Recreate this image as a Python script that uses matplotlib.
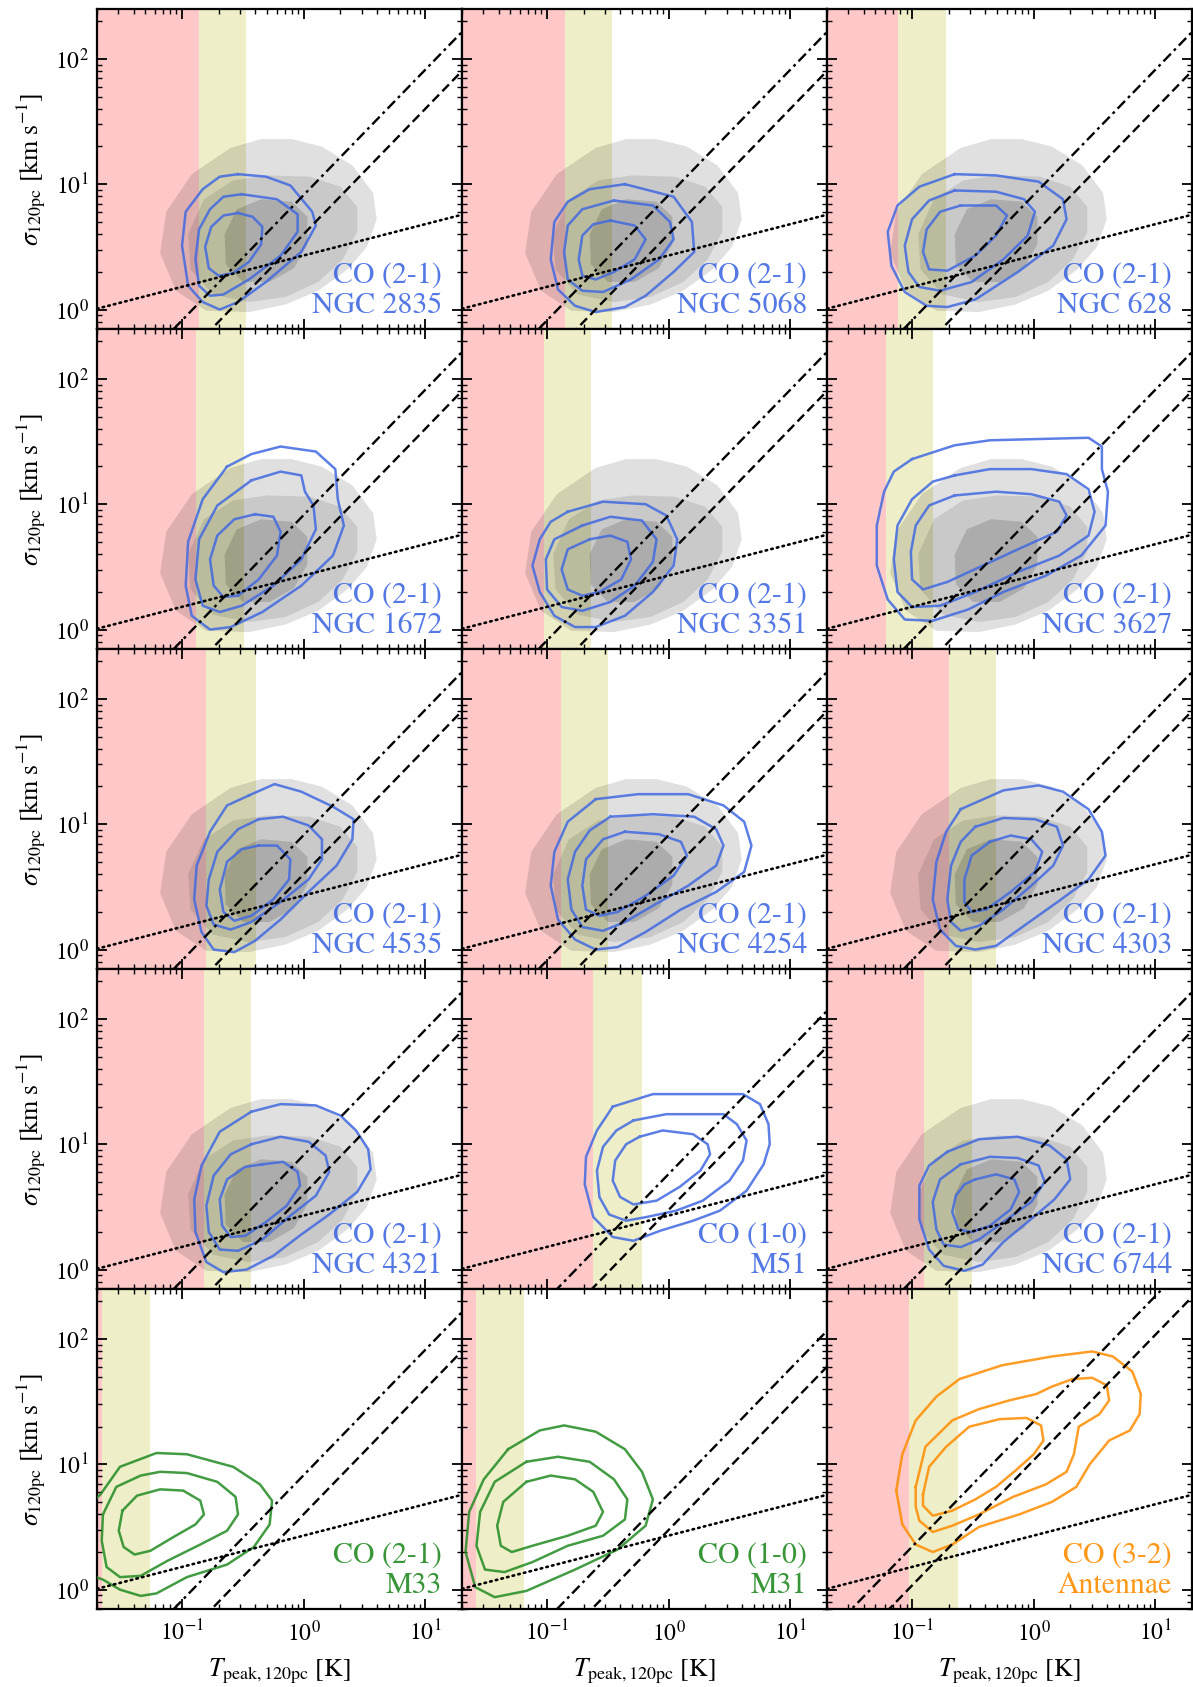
import numpy as np
import matplotlib.pyplot as plt

plt.rcParams['font.family'] = 'STIXGeneral'
plt.rcParams['mathtext.fontset'] = 'stix'

# contour outlines: (log10 Tpeak [K], log10 sigma [km/s]), outer -> inner
gray_ref = [
    [(-0.10, 1.36), (0.15, 1.30), (0.40, 1.15), (0.57, 0.93), (0.60, 0.72), (0.52, 0.50), (0.36, 0.32),
     (0.12, 0.15), (-0.15, 0.04), (-0.45, -0.02), (-0.80, -0.01), (-1.05, 0.15), (-1.18, 0.45),
     (-1.13, 0.78), (-0.92, 1.08), (-0.60, 1.29), (-0.35, 1.36)],
    [(-0.30, 1.07), (0.05, 1.06), (0.30, 0.98), (0.44, 0.82), (0.44, 0.62), (0.32, 0.40), (0.12, 0.22),
     (-0.15, 0.10), (-0.45, 0.06), (-0.75, 0.12), (-0.93, 0.32), (-0.95, 0.60), (-0.82, 0.88), (-0.58, 1.03)],
    [(-0.35, 0.88), (-0.10, 0.86), (0.03, 0.74), (0.03, 0.52), (-0.08, 0.33), (-0.28, 0.22), (-0.50, 0.22),
     (-0.64, 0.36), (-0.65, 0.60), (-0.55, 0.80)],
]

ngc2835 = [
    [(-0.54, 1.08), (-0.31, 1.06), (-0.11, 0.99), (0.07, 0.78), (0.10, 0.67), (-0.02, 0.46), (-0.31, 0.22),
     (-0.54, 0.06), (-0.69, 0.00), (-0.83, 0.06), (-0.95, 0.19), (-1.00, 0.51), (-0.97, 0.78), (-0.83, 0.96),
     (-0.69, 1.06)],
    [(-0.51, 0.92), (-0.22, 0.88), (-0.05, 0.76), (-0.05, 0.62), (-0.19, 0.43), (-0.45, 0.24), (-0.66, 0.12),
     (-0.77, 0.11), (-0.86, 0.19), (-0.89, 0.40), (-0.86, 0.64), (-0.77, 0.80), (-0.66, 0.90)],
    [(-0.54, 0.77), (-0.42, 0.74), (-0.34, 0.66), (-0.35, 0.52), (-0.45, 0.38), (-0.58, 0.29), (-0.70, 0.27),
     (-0.78, 0.33), (-0.81, 0.50), (-0.76, 0.66), (-0.66, 0.75)],
]
ngc5068 = [
    [(-0.36, 1.00), (0.04, 0.90), (0.19, 0.70), (0.21, 0.46), (0.04, 0.30), (-0.19, 0.11), (-0.36, 0.02),
     (-0.60, -0.02), (-0.77, 0.03), (-0.91, 0.16), (-0.97, 0.40), (-0.94, 0.70), (-0.83, 0.86), (-0.65, 0.96)],
    [(-0.45, 0.87), (-0.13, 0.83), (0.01, 0.70), (0.04, 0.56), (-0.08, 0.40), (-0.31, 0.24), (-0.54, 0.14),
     (-0.71, 0.15), (-0.83, 0.24), (-0.86, 0.46), (-0.83, 0.67), (-0.71, 0.80)],
    [(-0.48, 0.71), (-0.28, 0.67), (-0.19, 0.56), (-0.28, 0.40), (-0.45, 0.30), (-0.60, 0.24), (-0.71, 0.27),
     (-0.74, 0.40), (-0.71, 0.59), (-0.62, 0.68)],
]
ngc628 = [
    [(-0.65, 1.08), (-0.31, 1.07), (0.04, 1.02), (0.24, 0.88), (0.27, 0.72), (0.16, 0.51), (-0.13, 0.30),
     (-0.48, 0.08), (-0.71, 0.02), (-0.88, 0.03), (-1.06, 0.14), (-1.17, 0.35), (-1.20, 0.62), (-1.12, 0.83),
     (-0.94, 0.98)],
    [(-0.65, 0.95), (-0.31, 0.94), (-0.08, 0.88), (0.01, 0.78), (-0.05, 0.59), (-0.25, 0.40), (-0.51, 0.22),
     (-0.77, 0.15), (-0.94, 0.18), (-1.03, 0.30), (-1.06, 0.51), (-1.00, 0.72), (-0.86, 0.87)],
    [(-0.60, 0.83), (-0.31, 0.83), (-0.22, 0.75), (-0.31, 0.59), (-0.48, 0.43), (-0.71, 0.31), (-0.86, 0.32),
     (-0.91, 0.46), (-0.88, 0.64), (-0.77, 0.78)],
]
ngc1672 = [
    [(-0.63, 1.30), (-0.43, 1.40), (-0.19, 1.46), (0.10, 1.42), (0.26, 1.28), (0.28, 1.04), (0.33, 0.83),
     (0.24, 0.59), (-0.02, 0.35), (-0.34, 0.14), (-0.60, 0.02), (-0.77, 0.00), (-0.92, 0.11), (-0.97, 0.35),
     (-0.95, 0.70), (-0.83, 1.04)],
    [(-0.43, 1.19), (-0.19, 1.26), (-0.02, 1.23), (0.01, 1.10), (0.08, 0.99), (0.10, 0.80), (-0.02, 0.56),
     (-0.25, 0.35), (-0.51, 0.19), (-0.69, 0.14), (-0.83, 0.19), (-0.89, 0.40), (-0.86, 0.72), (-0.71, 0.99)],
    [(-0.40, 0.92), (-0.25, 0.90), (-0.19, 0.78), (-0.22, 0.59), (-0.37, 0.40), (-0.54, 0.27), (-0.66, 0.26),
     (-0.74, 0.35), (-0.77, 0.56), (-0.71, 0.75), (-0.57, 0.88)],
]
ngc3351 = [
    [(-0.83, 0.94), (-0.54, 1.02), (-0.19, 1.00), (-0.02, 0.91), (0.07, 0.72), (0.04, 0.51), (-0.13, 0.30),
     (-0.36, 0.11), (-0.60, 0.02), (-0.77, 0.02), (-0.94, 0.11), (-1.06, 0.30), (-1.12, 0.51), (-1.06, 0.72),
     (-0.97, 0.86)],
    [(-0.71, 0.83), (-0.48, 0.90), (-0.22, 0.87), (-0.10, 0.72), (-0.13, 0.54), (-0.28, 0.35), (-0.48, 0.22),
     (-0.71, 0.15), (-0.88, 0.18), (-1.00, 0.32), (-1.01, 0.56), (-0.94, 0.72)],
    [(-0.65, 0.72), (-0.48, 0.75), (-0.34, 0.70), (-0.31, 0.56), (-0.39, 0.40), (-0.57, 0.30), (-0.71, 0.27),
     (-0.83, 0.32), (-0.88, 0.48), (-0.83, 0.64)],
]
ngc3627 = [
    [(-1.00, 1.36), (-0.65, 1.47), (-0.36, 1.51), (0.04, 1.52), (0.45, 1.53), (0.56, 1.46), (0.56, 1.28),
     (0.61, 1.10), (0.59, 0.83), (0.39, 0.59), (0.10, 0.43), (-0.25, 0.30), (-0.54, 0.16), (-0.83, 0.07),
     (-1.06, 0.08), (-1.20, 0.24), (-1.29, 0.51), (-1.29, 0.83), (-1.23, 1.10), (-1.15, 1.26)],
    [(-0.65, 1.23), (-0.36, 1.28), (-0.02, 1.28), (0.27, 1.24), (0.45, 1.12), (0.50, 0.94), (0.45, 0.75),
     (0.21, 0.59), (-0.13, 0.46), (-0.48, 0.30), (-0.77, 0.19), (-1.00, 0.18), (-1.12, 0.30), (-1.15, 0.56),
     (-1.12, 0.83), (-1.00, 1.04), (-0.83, 1.18)],
    [(-0.65, 1.07), (-0.31, 1.10), (-0.02, 1.08), (0.21, 1.02), (0.27, 0.91), (0.19, 0.78), (-0.13, 0.64),
     (-0.42, 0.51), (-0.71, 0.38), (-0.91, 0.32), (-1.00, 0.40), (-1.01, 0.62), (-0.97, 0.83), (-0.86, 0.99)],
]
ngc4535 = [
    [(-0.45, 1.23), (-0.24, 1.32), (-0.02, 1.26), (0.24, 1.14), (0.41, 1.04), (0.40, 0.88), (0.27, 0.67),
     (0.04, 0.46), (-0.19, 0.24), (-0.40, 0.07), (-0.57, -0.02), (-0.74, 0.00), (-0.84, 0.14), (-0.90, 0.40),
     (-0.88, 0.67), (-0.77, 0.94), (-0.63, 1.15)],
    [(-0.37, 1.04), (-0.17, 1.06), (0.04, 0.99), (0.15, 0.88), (0.15, 0.72), (0.04, 0.56), (-0.19, 0.38),
     (-0.43, 0.22), (-0.60, 0.16), (-0.74, 0.20), (-0.80, 0.35), (-0.78, 0.56), (-0.71, 0.78), (-0.54, 0.96)],
    [(-0.37, 0.83), (-0.22, 0.83), (-0.11, 0.72), (-0.12, 0.56), (-0.25, 0.40), (-0.43, 0.27), (-0.57, 0.23),
     (-0.66, 0.30), (-0.69, 0.48), (-0.63, 0.70), (-0.51, 0.80)],
]
ngc4254 = [
    [(-0.60, 1.20), (-0.25, 1.24), (0.16, 1.24), (0.45, 1.15), (0.62, 1.02), (0.68, 0.83), (0.62, 0.62),
     (0.39, 0.46), (0.10, 0.32), (-0.19, 0.14), (-0.42, 0.02), (-0.60, 0.00), (-0.77, 0.08), (-0.91, 0.24),
     (-0.97, 0.51), (-0.94, 0.78), (-0.83, 1.02)],
    [(-0.48, 1.06), (-0.13, 1.08), (0.21, 1.06), (0.39, 0.96), (0.45, 0.83), (0.39, 0.67), (0.16, 0.51),
     (-0.13, 0.35), (-0.36, 0.22), (-0.54, 0.15), (-0.71, 0.18), (-0.80, 0.32), (-0.83, 0.56), (-0.77, 0.78),
     (-0.65, 0.95)],
    [(-0.36, 0.94), (-0.08, 0.92), (0.10, 0.86), (0.15, 0.75), (0.04, 0.59), (-0.19, 0.43), (-0.42, 0.30),
     (-0.57, 0.27), (-0.68, 0.32), (-0.71, 0.51), (-0.68, 0.72), (-0.54, 0.88)],
]
ngc4303 = [
    [(-0.60, 1.12), (-0.25, 1.27), (0.04, 1.31), (0.24, 1.26), (0.45, 1.12), (0.56, 0.94), (0.59, 0.75),
     (0.45, 0.56), (0.21, 0.39), (-0.08, 0.19), (-0.31, 0.03), (-0.48, 0.00), (-0.64, 0.03), (-0.77, 0.16),
     (-0.83, 0.40), (-0.80, 0.70), (-0.72, 0.94)],
    [(-0.48, 0.98), (-0.25, 1.05), (0.01, 1.04), (0.19, 0.98), (0.24, 0.83), (0.16, 0.67), (-0.02, 0.51),
     (-0.25, 0.32), (-0.45, 0.19), (-0.60, 0.15), (-0.68, 0.22), (-0.71, 0.40), (-0.68, 0.67), (-0.60, 0.86)],
    [(-0.36, 0.86), (-0.19, 0.91), (-0.02, 0.88), (0.07, 0.78), (0.01, 0.62), (-0.19, 0.46), (-0.39, 0.32),
     (-0.51, 0.30), (-0.57, 0.38), (-0.57, 0.56), (-0.51, 0.75)],
]
ngc4321 = [
    [(-0.43, 1.26), (-0.19, 1.32), (0.10, 1.31), (0.30, 1.23), (0.43, 1.11), (0.53, 0.96), (0.55, 0.80),
     (0.44, 0.62), (0.21, 0.44), (-0.02, 0.28), (-0.25, 0.11), (-0.47, 0.00), (-0.66, -0.02), (-0.80, 0.06),
     (-0.89, 0.30), (-0.90, 0.56), (-0.84, 0.83), (-0.69, 1.10)],
    [(-0.43, 1.00), (-0.19, 1.06), (0.04, 1.02), (0.18, 0.91), (0.21, 0.78), (0.10, 0.59), (-0.11, 0.43),
     (-0.34, 0.24), (-0.54, 0.15), (-0.69, 0.16), (-0.78, 0.30), (-0.80, 0.51), (-0.74, 0.75), (-0.60, 0.92)],
    [(-0.34, 0.84), (-0.17, 0.86), (-0.05, 0.78), (-0.03, 0.67), (-0.14, 0.51), (-0.31, 0.38), (-0.48, 0.27),
     (-0.60, 0.26), (-0.67, 0.35), (-0.69, 0.56), (-0.63, 0.72), (-0.48, 0.82)],
]
m51 = [
    [(-0.46, 1.30), (-0.13, 1.40), (0.26, 1.40), (0.61, 1.40), (0.75, 1.32), (0.82, 1.16), (0.83, 1.00),
     (0.78, 0.84), (0.64, 0.63), (0.42, 0.47), (0.20, 0.39), (-0.07, 0.31), (-0.29, 0.23), (-0.46, 0.26),
     (-0.62, 0.42), (-0.69, 0.68), (-0.68, 0.90), (-0.59, 1.11)],
    [(-0.29, 1.19), (-0.02, 1.24), (0.45, 1.24), (0.56, 1.16), (0.64, 1.03), (0.61, 0.87), (0.50, 0.71),
     (0.28, 0.55), (0.06, 0.47), (-0.18, 0.42), (-0.35, 0.39), (-0.49, 0.44), (-0.57, 0.58), (-0.59, 0.79),
     (-0.54, 0.98), (-0.43, 1.11)],
    [(-0.24, 1.06), (-0.05, 1.11), (0.20, 1.08), (0.32, 1.00), (0.34, 0.92), (0.26, 0.79), (0.09, 0.66),
     (-0.10, 0.55), (-0.29, 0.52), (-0.40, 0.58), (-0.46, 0.71), (-0.44, 0.87), (-0.35, 1.00)],
]
ngc6744 = [
    [(-0.71, 0.94), (-0.45, 1.04), (-0.13, 1.06), (0.13, 0.99), (0.27, 0.88), (0.30, 0.72), (0.17, 0.56),
     (-0.05, 0.38), (-0.25, 0.22), (-0.42, 0.04), (-0.57, -0.01), (-0.74, 0.03), (-0.86, 0.16), (-0.94, 0.40),
     (-0.94, 0.67), (-0.86, 0.83)],
    [(-0.60, 0.84), (-0.36, 0.90), (-0.13, 0.89), (0.04, 0.83), (0.09, 0.70), (-0.02, 0.54), (-0.25, 0.38),
     (-0.45, 0.24), (-0.60, 0.18), (-0.74, 0.20), (-0.80, 0.32), (-0.83, 0.54), (-0.77, 0.72)],
    [(-0.48, 0.72), (-0.31, 0.76), (-0.16, 0.72), (-0.12, 0.62), (-0.19, 0.48), (-0.36, 0.35), (-0.51, 0.30),
     (-0.62, 0.32), (-0.67, 0.46), (-0.64, 0.59), (-0.57, 0.68)],
]
m33 = [
    [(-1.85, 0.60), (-1.67, 0.76), (-1.51, 0.98), (-1.21, 1.09), (-0.96, 1.08), (-0.58, 0.98), (-0.36, 0.84),
     (-0.26, 0.71), (-0.28, 0.52), (-0.41, 0.34), (-0.63, 0.20), (-0.96, 0.10), (-1.21, -0.03), (-1.34, -0.05),
     (-1.51, 0.00), (-1.65, 0.08), (-1.85, 0.15)],
    [(-1.65, 0.60), (-1.54, 0.82), (-1.34, 0.91), (-1.18, 0.94), (-0.96, 0.93), (-0.71, 0.86), (-0.56, 0.74),
     (-0.54, 0.60), (-0.63, 0.47), (-0.85, 0.36), (-1.12, 0.23), (-1.34, 0.11), (-1.51, 0.10), (-1.62, 0.18),
     (-1.66, 0.39)],
    [(-1.49, 0.63), (-1.37, 0.75), (-1.18, 0.80), (-0.99, 0.79), (-0.85, 0.71), (-0.82, 0.60), (-0.89, 0.52),
     (-1.07, 0.42), (-1.26, 0.31), (-1.39, 0.28), (-1.48, 0.34), (-1.52, 0.47)],
]
m31 = [
    [(-1.32, 1.12), (-1.06, 1.27), (-0.86, 1.31), (-0.60, 1.26), (-0.36, 1.12), (-0.22, 0.94), (-0.13, 0.72),
     (-0.19, 0.51), (-0.42, 0.32), (-0.77, 0.16), (-1.17, -0.01), (-1.43, -0.06), (-1.59, 0.02), (-1.67, 0.30),
     (-1.64, 0.62), (-1.52, 0.88)],
    [(-1.17, 1.02), (-0.91, 1.06), (-0.65, 1.02), (-0.45, 0.88), (-0.34, 0.72), (-0.36, 0.56), (-0.54, 0.43),
     (-0.83, 0.35), (-1.12, 0.22), (-1.35, 0.14), (-1.51, 0.16), (-1.58, 0.35), (-1.55, 0.62), (-1.43, 0.86)],
    [(-1.17, 0.86), (-0.97, 0.91), (-0.77, 0.88), (-0.62, 0.78), (-0.54, 0.62), (-0.60, 0.51), (-0.83, 0.43),
     (-1.12, 0.35), (-1.29, 0.30), (-1.38, 0.35), (-1.41, 0.51), (-1.36, 0.70)],
]
antennae = [
    [(-1.13, 0.79), (-1.08, 1.08), (-0.97, 1.35), (-0.80, 1.54), (-0.61, 1.68), (-0.26, 1.79), (0.15, 1.86),
     (0.48, 1.90), (0.65, 1.86), (0.81, 1.74), (0.88, 1.56), (0.87, 1.40), (0.79, 1.27), (0.62, 1.19),
     (0.46, 1.00), (0.35, 0.82), (0.15, 0.70), (-0.12, 0.60), (-0.45, 0.50), (-0.67, 0.36), (-0.83, 0.30),
     (-0.97, 0.36), (-1.08, 0.52)],
    [(-0.97, 0.82), (-0.89, 1.14), (-0.67, 1.35), (-0.45, 1.44), (-0.20, 1.51), (0.02, 1.56), (0.15, 1.62),
     (0.32, 1.68), (0.48, 1.69), (0.60, 1.63), (0.62, 1.51), (0.54, 1.40), (0.37, 1.30), (0.33, 1.08),
     (0.27, 0.94), (0.10, 0.84), (-0.17, 0.74), (-0.45, 0.60), (-0.67, 0.51), (-0.83, 0.46), (-0.94, 0.55),
     (-0.97, 0.66)],
    [(-0.91, 0.76), (-0.86, 0.98), (-0.72, 1.14), (-0.53, 1.30), (-0.28, 1.36), (-0.06, 1.37), (0.06, 1.31),
     (0.08, 1.19), (0.00, 1.08), (-0.15, 0.95), (-0.31, 0.82), (-0.48, 0.72), (-0.67, 0.63), (-0.83, 0.59),
     (-0.91, 0.67)],
]

galaxies = ["NGC 2835", "NGC 5068", "NGC 628", "NGC 1672", "NGC 3351", "NGC 3627",
            "NGC 4535", "NGC 4254", "NGC 4303", "NGC 4321", "M51", "NGC 6744",
            "M33", "M31", "Antennae"]
lines = ["CO (2-1)"] * 10 + ["CO (1-0)", "CO (2-1)", "CO (2-1)", "CO (1-0)", "CO (3-2)"]
contours = [ngc2835, ngc5068, ngc628, ngc1672, ngc3351, ngc3627, ngc4535, ngc4254,
            ngc4303, ngc4321, m51, ngc6744, m33, m31, antennae]
show_ref = [True] * 10 + [False, True, False, False, False]
colors = ["royalblue"] * 12 + ["forestgreen", "forestgreen", "darkorange"]

# noise limits [K]: red below t_low, yellow between t_low and t_high
t_low = [0.139, 0.140, 0.077, 0.130, 0.094, 0.061, 0.158, 0.131, 0.200, 0.152, 0.238, 0.125, 0.022, 0.026, 0.094]
t_high = [0.338, 0.340, 0.189, 0.321, 0.228, 0.149, 0.402, 0.318, 0.494, 0.366, 0.603, 0.310, 0.055, 0.065, 0.238]

# sigma = k * Tpeak lines per transition, and the shallow reference relation
k_dashdot = {"CO (1-0)": 5.8, "CO (2-1)": 8.2, "CO (3-2)": 22.0}
k_dashed = {"CO (1-0)": 3.0, "CO (2-1)": 4.0, "CO (3-2)": 10.8}
dot_norm, dot_slope = 2.7, 0.25

fig, axes = plt.subplots(5, 3, figsize=(11.93, 16.87), dpi=100, sharex=True, sharey=True)
fig.subplots_adjust(left=0.0813, right=0.9992, top=0.9947, bottom=0.0462, wspace=0, hspace=0)


def closed(poly):
    p = np.array(poly + [poly[0]])
    return 10 ** p[:, 0], 10 ** p[:, 1]


for i, ax in enumerate(axes.flat):
    ax.set_xscale('log')
    ax.set_yscale('log')
    ax.set_xlim(0.02, 20)
    ax.set_ylim(0.7, 250)

    ax.axvspan(0.001, t_low[i], color='#fec8c8', lw=0, zorder=0)
    ax.axvspan(t_low[i], t_high[i], color='#eeeec9', lw=0, zorder=0)

    if show_ref[i]:
        for poly, a in zip(gray_ref, [0.12, 0.10, 0.14]):
            x, y = closed(poly)
            ax.fill(x, y, color='black', alpha=a, lw=0, zorder=1)

    for poly in contours[i]:
        x, y = closed(poly)
        ax.plot(x, y, color=colors[i], lw=1.8, alpha=0.85, zorder=3, solid_joinstyle='round')

    t = np.array([0.02, 20.0])
    ax.plot(t, k_dashdot[lines[i]] * t, color='black', lw=1.7, dashes=(4.5, 1.8, 1.2, 1.8), zorder=4)
    ax.plot(t, k_dashed[lines[i]] * t, color='black', lw=1.7, dashes=(4, 2), zorder=4)
    ax.plot(t, dot_norm * t ** dot_slope, color='black', lw=1.9, dashes=(0.6, 1.6),
            dash_capstyle='round', zorder=4)

    ax.text(0.945, 0.144, lines[i], transform=ax.transAxes, ha='right', va='baseline',
            fontsize=21.5, color=colors[i], alpha=0.9, zorder=5)
    ax.text(0.945, 0.05, galaxies[i], transform=ax.transAxes, ha='right', va='baseline',
            fontsize=21.5, color=colors[i], alpha=0.9, zorder=5)

    ax.tick_params(which='both', direction='in', top=True, right=True, labelsize=17)
    ax.tick_params(which='major', length=7, width=1.3)
    ax.tick_params(which='minor', length=3.5, width=1.0)
    ax.tick_params(axis='x', pad=8)
    ax.tick_params(axis='y', pad=6)
    for s in ax.spines.values():
        s.set_linewidth(1.6)

    if i % 3 == 0:
        ax.set_ylabel(r'$\sigma_{\rm 120pc}\ \left[\rm km\ s^{-1}\right]$', fontsize=18.5, labelpad=5)
    if i >= 12:
        ax.set_xlabel(r'$T_{\rm peak,120pc}\ \left[\rm K\right]$', fontsize=18.5, labelpad=8)

fig.savefig('out.png', dpi=100)
